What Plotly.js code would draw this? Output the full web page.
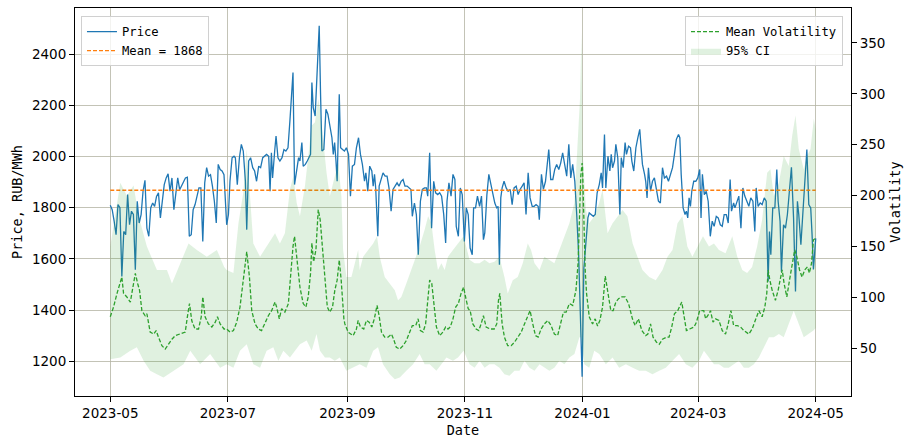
<!DOCTYPE html>
<html>
<head>
<meta charset="utf-8">
<script src="https://cdn.plot.ly/plotly-3.0.1.min.js"></script>
<style>html,body{margin:0;padding:0;background:#fff;}#chart{width:915px;height:448px;}</style>
</head>
<body>
<div id="chart"></div>
<script>
// ---- data (day offsets from 2023-05-01) ----
const startDate = '2023-05-01';
const meanPrice = 1868;

const priceDay = [0,1,2,3,4,5,6,7,8,9,10,11,12,13,14,15,16,17,18,19,20,21,22,23,24,25,26,27,28,29,30,31,32,33,34,35,36,37,38,39,40,41,42,43,44,45,46,47,48,49,50,51,52,53,54,55,56,57,58,59,
60.4,61.3,62.1,63.2,64.2,64.9,65.9,67.0,68.0,69.0,70.1,70.8,71.8,72.8,73.9,74.9,75.9,77.0,78.0,79.1,80.1,81.1,82.2,82.9,83.6,84.2,85.3,86.0,87.0,88.0,89.1,90.1,91.1,92.2,93.2,94.1,94.8,95.6,96.7,97.7,98.4,99.4,100.1,101.2,102.2,103.2,103.9,104.6,105.3,106.3,107.0,107.7,108.4,109.1,109.8,110.8,111.9,112.9,113.9,115.0,115.7,116.4,117.1,117.7,118.8,119.5,120.5,121.5,
122.5,123.6,124.6,125.6,126.7,127.7,128.8,129.8,130.8,131.9,132.6,133.6,134.6,135.7,136.4,137.1,137.7,138.8,139.5,140.5,141.5,142.6,143.6,144.6,145.7,146.7,147.8,148.8,149.8,150.9,151.9,152.9,154.0,155.0,156.0,156.7,157.8,158.8,159.8,160.9,161.9,163.0,164.0,164.7,165.7,166.7,167.8,168.8,169.9,170.9,171.9,173.0,174.0,174.7,175.7,176.8,177.8,178.8,179.5,180.6,181.6,182.6,183.7,
184.7,185.7,186.7,187.8,188.5,189.5,190.5,191.6,192.6,193.6,194.3,195.4,196.4,197.4,198.5,199.5,200.5,201.2,201.9,202.6,203.3,204.3,205.4,206.4,207.5,208.5,209.5,210.6,211.6,212.6,213.7,214.7,215.7,216.8,217.8,218.9,219.9,220.9,222.0,222.6,223.7,224.7,225.8,226.8,227.5,228.5,229.6,230.6,231.6,232.7,233.7,234.7,235.8,236.8,237.9,238.9,239.9,241.0,242.0,243.0,243.9,244.8,
245.7,246.8,247.8,248.5,249.5,250.6,251.6,252.6,253.7,254.7,255.4,256.4,257.1,258.2,259.2,259.9,260.6,261.6,262.3,263.3,264.4,265.1,266.1,267.1,267.8,268.9,269.9,270.6,271.6,272.7,273.7,274.7,275.4,276.1,277.2,277.8,278.5,279.2,280.3,281.3,282.3,283.4,284.4,285.4,286.5,287.5,288.6,289.6,290.6,291.7,292.7,293.7,294.8,295.5,296.2,297.2,298.2,298.9,299.6,300.3,301.0,301.7,302.7,303.8,304.8,305.8,306.5,307.2,
308.2,309.2,310.2,311.3,312.3,313.3,314.4,315.4,316.5,317.5,318.5,319.6,320.6,321.6,322.3,323.4,324.1,325.1,326.1,327.2,328.2,329.2,330.3,331.3,332.3,333.4,334.4,335.1,336.1,337.2,338.2,339.3,340.3,341.3,342.0,342.7,343.7,344.8,345.8,346.5,347.5,348.2,349.3,350.3,351.3,352.4,353.4,354.5,355.5,356.5,357.2,358.3,359.3,360.3,361.4,362.4,363.4,364.1,364.8,366];

const price = [1809,1792,1747,1694,1812,1800,1531,1707,1694,1851,1733,1786,1773,1557,1825,1740,1773,1864,1907,1720,1688,1800,1818,1805,1844,1858,1760,1825,1890,1916,1932,1864,1916,1792,1851,1916,1870,1884,1903,1916,1919,1688,1694,1792,1812,1851,1877,1877,1668,1897,1956,1923,1929,1884,1825,1740,1969,1949,1943,1929,
1733,1773,1903,1995,2001,1995,1890,1995,2047,2021,1903,1714,1982,1995,1956,1943,1903,1962,1956,1995,2001,2008,2001,1864,2014,1916,2021,2080,1995,1982,1995,2027,2021,2034,2139,2230,2328,1890,1943,1995,1982,2054,1962,1969,1982,1995,2008,2289,2191,2158,2295,2439,2511,2243,2021,2027,2184,2165,2126,2073,2008,2054,1982,1903,2243,2034,2027,2021,
2034,2008,1845,1962,1969,2034,2073,2008,1969,1903,1936,1864,1962,1943,1884,1930,1877,1688,1884,1910,1936,1923,1923,1877,1786,1871,1884,1897,1884,1903,1910,1884,1884,1877,1871,1766,1818,1773,1616,1825,1871,1877,1877,1845,2014,1720,1903,1858,1851,1858,1845,1773,1662,1825,1897,1845,1930,1910,1727,1688,1877,1851,1668,
1799,1773,1642,1616,1799,1799,1845,1805,1845,1675,1701,1851,1930,1890,1845,1818,1799,1805,1577,1838,1877,1903,1877,1864,1871,1812,1877,1884,1851,1871,1884,1897,1773,1936,1838,1805,1805,1812,1805,1753,1930,1871,1903,1982,2027,1910,1910,1949,1969,1949,1975,2014,1956,1923,2047,1916,1969,1903,1773,1616,1380,1139,
1563,1668,1760,1779,1773,1766,1773,1858,1890,1936,1877,2086,1877,2001,1943,2008,1956,1982,2047,1995,1773,1995,1956,2054,2008,2040,2034,1982,1943,2034,2073,2106,2034,1969,1930,1903,1838,1956,1864,1903,1916,1858,1825,1818,1956,1916,1923,1903,1930,1956,2008,2067,2086,2073,1930,1799,1773,1786,1760,1838,1805,1864,1903,1903,1916,1949,1760,1930,
1851,1864,1825,1688,1747,1727,1766,1760,1733,1727,1773,1773,1740,1910,1786,1818,1799,1825,1845,1720,1877,1845,1825,1805,1838,1825,1707,1877,1805,1818,1812,1838,1825,1511,1707,1616,1799,1799,1949,1825,1747,1550,1733,1720,1773,1864,1958,1760,1472,1825,1773,1655,1773,1903,2027,1812,1799,1694,1558,1680];

const volDay = [0,1.7,3.5,5.2,6,6.9,8.6,10.4,12.1,13,14.2,15.2,16.4,18.1,19,20.7,22.5,23.8,25,26.8,28.5,30.2,32,33.7,36.3,38.9,40,41.1,42.3,44,45.8,47.2,48,49.2,50.9,52.7,54.4,55.6,57,59,
60.4,62.1,63.9,65.6,67.3,69,70.8,72.2,73.4,75.1,76.8,78.5,80.3,82,83.7,85.5,86.3,87.7,88.9,90.6,92.4,93.6,94.8,95.6,96.7,98.4,100.1,101.5,102.7,103.9,104.6,105.5,106.7,107.9,108.9,110.2,111.4,112.6,113.9,115.3,116.5,117.7,118.8,119.8,121.2,
121.7,123.4,126,127.7,128.6,129.8,131.5,132.9,134.3,135.7,137,138.4,139.5,140.7,142.4,144.1,145.9,147,148.4,150.2,151.9,153.6,155.4,156.7,158.5,159.7,160.9,162.3,163.6,164.9,165.7,166.8,167.8,169.2,170.9,172.6,174,175.2,176.4,177.8,179.2,180.6,182,183.3,
184.7,185.7,186.7,188.1,189.8,191.2,192.4,193.6,195,197.1,199.2,200.5,201.4,202.1,203.3,204.5,206.2,208,209.7,211.4,213.2,214.9,216.6,217.8,219.2,220.6,222,223.5,225.2,227,228.7,230.4,232.1,233.9,235.1,236.5,238.2,239.9,241.6,242.7,243.4,244.1,244.8,
245,246.4,247.1,248.5,250.2,251.6,252.8,254,255.4,256.8,258.2,259.7,260.9,262.3,263.7,265.4,267.1,268.9,270.9,272.3,274,275.8,277.8,278.9,280.3,281.6,283.4,284.8,286.5,288.6,289.9,291.3,292.7,294.4,296.5,297.7,298.9,300.6,302.9,304.1,305.8,307.9,
308.9,310.6,311.4,312.7,314,315.8,317.5,319.2,320.6,322,323.4,325.3,327,328.7,331.3,333,334.8,336.5,338.2,339.6,340.6,341.3,342.2,343.4,345.1,346.5,347.5,348.6,349.6,351,352.4,353.8,355.1,356.2,357.6,358.9,360.3,361.7,362.7,363.8,364.8,366];

const vol = [81,90.6,104,113.7,120,104,100.5,95.5,117,123.6,113.7,107,87,82,84,66,64,67.5,61,52.6,49.3,54.3,59,62.5,64,66,81,94,77,69,69,81,100.5,81,74,71,75.5,81,74,69,
69,66,67.5,75.7,90.6,120,145,120,87,74,69,67.5,75.7,82,87,95.5,90.6,79,89,85.6,94,127,150,160,140,110,94,90.6,100.5,123.6,153.5,135,146.7,186.3,176.4,146.7,113.7,90.6,85.6,90.6,107,117,136.7,117,79,
74,66,62.5,69,77.4,71,69,77.4,75.7,71,79,92.2,82,66,61,61,64,59,51,49.3,52.6,57.6,66,72.4,72.4,79,67.5,66,74,98.8,117,113.7,94,71,62.5,66,71,69,71,79,90.6,94,104,110,
97.2,89,87,74,69,67.5,74,82,71,69,69,74,97.2,104,74,61,52.6,52.6,56,61,66,74,82,87,74,62.5,61,69,74,77.4,72.4,64,62.5,75.7,85.6,85.6,94,92.2,107,133.5,173,219,232,
229,127,104,81,74,79,72,77.4,90.6,121,104,87,87,95.5,98.8,100.5,100.5,94,79,72.4,79,67.5,62.5,64,74,61,56,54,59,61,61,71,84,87,95.5,81,67.5,69,71,75.7,87,87,
79,84,87,75.7,79,77.4,67.5,64,74,87,72.4,72.4,71,67.5,64,69,77.4,87,81,90.6,104,127,117,107,97.2,107,117,127,113.7,100.5,117,133.5,146.7,140,127,120,127,130,124,133.5,156.6,158];

const ciHiDay = [0,2.6,5.2,8.6,12.1,14.7,19,24.2,29.4,32,36.3,40.6,44.9,50.1,55.3,59.1,60.4,
63.9,66.5,69,70.8,72.5,74.2,77.7,81.1,85.5,88,90.6,93.2,95,96.7,98.4,101,102.7,104.5,106.2,107.9,108.8,110.5,112.2,113.9,116.5,118.3,
119.9,120.8,122.5,125.1,126.9,128.6,129.4,131.2,133.8,136.4,138.4,139.8,142.4,145,147.6,149.3,151,153.6,156.2,158.8,160.5,163.1,164.9,166.6,168.3,170,171.8,173.5,175.2,177.8,180.4,183.3,
186.4,189,191.6,194.2,196.7,199.3,201.9,204.5,206.2,208.8,211.4,214,216.6,218.3,220.1,222.7,225.2,227.8,230.4,233,235.6,238.2,240.8,242.5,243.7,244.5,245,
246.8,248.5,251.1,253.7,255.4,258,260.6,263.2,265.8,268.3,271,273.5,276.1,279.6,283,286.5,289.1,291.7,294.3,296.8,299.4,302,304.6,307.5,
310.6,313.2,315.8,319.2,322.7,325.3,327.9,330.4,333,335.6,338.2,340.8,342.5,344.3,346.9,349.4,352,353.8,355.5,357.2,359.8,361.5,363.3,365,366];
const ciHi = [150,180,212.7,200,210,180,150,127,127,113.7,133.5,153,146.7,140,146.7,130,127,
124,173,202.8,245.7,202.8,153,140,150,163,153,163,206,219,193,179.7,209.4,239,268.8,272,295,285,252,222.6,199.5,219,232.5,
199.5,146.7,120,120,133.5,146.7,127,140,146.7,153,160,140,120,113.7,107,97.2,100.5,113.7,127,140,150,166.5,179.7,173,146.7,127,133.5,127,140,146.7,153,160,
137,133.5,133.5,137,133.5,135,140,120,103.8,117,120,133.5,153,146.7,133.5,127,140,137,133.5,146.7,160,173,193,245.7,295,360,245.7,
186,173,179.7,193,206,163,173,179.7,186,179.7,153,140,127,120,117,127,140,146.7,173,179.7,150,140,150,160,
150,153,146.7,143.4,160,140,127,124,130,150,176.4,222.6,226,199.5,212.7,239,229,259,278.7,245.7,226,239,245.7,275.4,265];

const ciLoDay = [0,5.2,10.4,13.8,17.3,20.7,24.2,27.6,32.8,38,41.5,46.6,51.8,57,
60.4,63.9,67.3,70.8,74.2,77.7,81.1,84.6,87.2,89.8,93.2,95.8,98.4,101.9,104.5,107,108.8,111.4,113.9,116.5,119.1,
122.5,126,129.4,132.9,136.4,138.9,141.5,145,147.6,150.2,153.6,157.1,160.5,163.1,165.7,169.2,171.8,174.4,177.8,180.4,183.3,
186.4,189,191.6,194.2,196.7,199.3,201.9,204.5,207.1,209.7,212.3,214.9,217.5,220.1,222.7,225.2,227.8,230.4,233,235.6,238.2,240.8,243.4,244.2,
245.9,248.5,251.1,253.7,257.1,260.6,264,267.5,271,274.4,277.8,281.3,284.8,288.2,291.7,295.1,298.6,302,305.5,
308,310.6,313.2,315.8,318.4,320.9,323.5,326.1,328.7,331.3,333.9,336.5,339.1,341.7,344.3,346.9,349.4,352,354.6,357.2,359.8,362.4,364.8,366];
const ciLo = [39.4,41,47.7,51,37.8,28,24.6,21.3,28,34.5,47.7,34.5,44.4,31,
34.5,31,47.7,54,34.5,31,47.7,51,37.8,47.7,41,47.7,54,57.6,47.7,64,47.7,41,41,37.8,41,
28,31,34.5,31,47.7,51,34.5,24.6,19.6,21.3,28,34.5,44.4,34.5,34.5,28,34.5,41,37.8,41,47.7,
34.5,31,37.8,31,34.5,34.5,31,24.6,23,28,28,37.8,31,28,34.5,31,28,31,37.8,34.5,41,44.4,61,61,
34.5,31,47.7,44.4,34.5,41,31,34.5,31,28,28,24.6,28,31,37.8,44.4,34.5,31,37.8,
47.7,41,34.5,34.5,31,31,34.5,37.8,31,31,34.5,41,51,61,61,64,61,74,87,74,61,64,67.5,70];

// ---- helpers ----
const t0 = Date.parse(startDate + 'T00:00:00Z');
function toDate(d) {
  return new Date(t0 + d * 86400000).toISOString().slice(0, 19).replace('T', ' ');
}
const priceX = priceDay.map(toDate);
const volX = volDay.map(toDate);
const ciX = ciHiDay.map(toDate).concat(ciLoDay.slice().reverse().map(toDate));
const ciY = ciHi.concat(ciLo.slice().reverse());
const firstDay = priceDay[0], lastDay = priceDay[priceDay.length - 1];
const span = lastDay - firstDay;

const mono = 'DejaVu Sans Mono, monospace';
const sans = 'DejaVu Sans, sans-serif';
const gridC = '#b4b4a4';

const traces = [
  {x: priceX, y: price, type: 'scatter', mode: 'lines', name: 'Price',
   line: {color: '#1f77b4', width: 1.3}, legend: 'legend', xaxis: 'x', yaxis: 'y'},
  {x: [toDate(firstDay), toDate(lastDay)], y: [meanPrice, meanPrice], type: 'scatter', mode: 'lines',
   name: 'Mean = ' + meanPrice, line: {color: '#ff7f0e', width: 1.3, dash: '4px,2px'},
   legend: 'legend', xaxis: 'x', yaxis: 'y'},
  {x: ciX, y: ciY, type: 'scatter', mode: 'lines', fill: 'toself', name: '95% CI',
   fillcolor: 'rgba(44,160,44,0.15)', line: {width: 0, color: 'rgba(44,160,44,0)'},
   legend: 'legend2', legendrank: 2, xaxis: 'x', yaxis: 'y2', hoverinfo: 'skip'},
  {x: volX, y: vol, type: 'scatter', mode: 'lines', name: 'Mean Volatility',
   line: {color: '#2ca02c', width: 1.3, dash: '4px,2px'},
   legend: 'legend2', legendrank: 1, xaxis: 'x', yaxis: 'y2'}
];

const axisCommon = {
  ticks: 'outside', ticklen: 5, tickwidth: 1, tickcolor: '#000',
  showline: true, linecolor: '#000', linewidth: 1, zeroline: false,
  tickfont: {family: sans, size: 13.5, color: '#000'}
};

const layout = {
  width: 915, height: 448,
  margin: {l: 75, r: 64, t: 8, b: 52, pad: 0},
  paper_bgcolor: '#fff', plot_bgcolor: '#fff',
  font: {family: sans, size: 13.5, color: '#000'},
  showlegend: true,
  xaxis: Object.assign({}, axisCommon, {
    type: 'date',
    range: [toDate(firstDay - 0.05 * span), toDate(lastDay + 0.05 * span)],
    tick0: startDate, dtick: 'M2', tickformat: '%Y-%m',
    mirror: true, showgrid: true, gridcolor: gridC, gridwidth: 0.8,
    title: {text: 'Date', font: {family: mono, size: 13.5, color: '#000'}, standoff: 5}
  }),
  yaxis: Object.assign({}, axisCommon, {
    range: [1064, 2580], dtick: 200, tick0: 0,
    mirror: true, showgrid: true, gridcolor: gridC, gridwidth: 0.8,
    title: {text: 'Price, RUB/MWh', font: {family: mono, size: 13.5, color: '#000'}, standoff: 6}
  }),
  yaxis2: Object.assign({}, axisCommon, {
    overlaying: 'y', side: 'right', anchor: 'x',
    range: [3.2, 384.3], dtick: 50, tick0: 0, showgrid: false,
    title: {text: 'Volatility', font: {family: mono, size: 13.5, color: '#000'}, standoff: 6}
  }),
  legend: {
    x: 0.0077, y: 0.979, xanchor: 'left', yanchor: 'top',
    bgcolor: 'rgba(255,255,255,0.8)', bordercolor: '#d0d0d0', borderwidth: 1,
    font: {family: mono, size: 12.2, color: '#000'}, tracegroupgap: 0
  },
  legend2: {
    x: 0.9897, y: 0.979, xanchor: 'right', yanchor: 'top',
    bgcolor: 'rgba(255,255,255,0.8)', bordercolor: '#d0d0d0', borderwidth: 1,
    font: {family: mono, size: 12.2, color: '#000'}, tracegroupgap: 0
  }
};

Plotly.newPlot('chart', traces, layout, {displayModeBar: false, staticPlot: true});
</script>
</body>
</html>
